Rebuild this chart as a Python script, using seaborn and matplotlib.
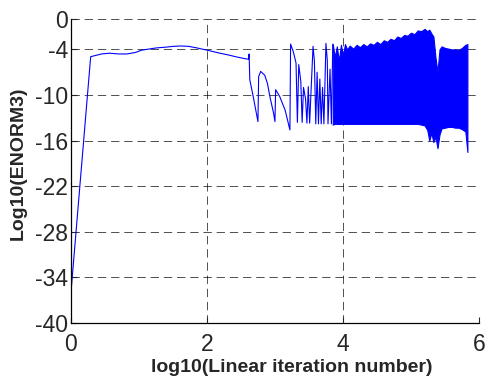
import numpy as np
import pandas as pd
import matplotlib
matplotlib.use("Agg")
import matplotlib.pyplot as plt
import seaborn as sns

sns.set_style("ticks")
plt.rcParams['font.family'] = ['Liberation Sans', 'DejaVu Sans']
plt.rcParams['lines.scale_dashes'] = False

# ramp and slow plateau
plateau_x = [0.0, 0.29, 0.45, 0.57, 0.70, 0.82, 0.95, 1.04, 1.15, 1.26, 1.40, 1.50,
             1.62, 1.73, 1.85, 1.95, 2.05, 2.19, 2.30, 2.44, 2.55, 2.61]
plateau_y = [-36.0, -4.96, -4.6, -4.5, -4.6, -4.6, -4.4, -4.1, -3.95, -3.8, -3.7, -3.6,
             -3.55, -3.6, -3.8, -4.0, -4.2, -4.5, -4.7, -5.0, -5.2, -5.3]

# sparse breakdown spikes
burst_x = [2.62, 2.63, 2.68, 2.75, 2.76, 2.79, 2.85, 2.89, 2.93, 2.98, 3.00, 3.01,
           3.07, 3.15, 3.22, 3.23, 3.27, 3.31, 3.33, 3.35, 3.38, 3.40, 3.42, 3.45,
           3.47, 3.49, 3.51, 3.56, 3.58, 3.60, 3.62, 3.64, 3.66, 3.68, 3.70, 3.72,
           3.75, 3.77, 3.78, 3.81, 3.83, 3.85]
burst_y = [-4.6, -8.0, -10.2, -13.5, -7.6, -6.9, -7.4, -8.5, -10.4, -12.4, -13.5, -9.3,
           -10.2, -12.0, -14.6, -3.3, -4.3, -5.8, -13.6, -6.0, -8.2, -13.6, -9.0, -10.5,
           -13.7, -8.9, -13.7, -3.6, -5.5, -13.8, -7.0, -13.8, -7.9, -13.8, -9.0, -13.8,
           -3.2, -5.5, -13.8, -6.6, -13.8, -3.3]

# dense oscillation region: upper / lower envelope
band_x = [3.85, 3.88, 3.91, 3.94, 3.97, 4.00, 4.03, 4.06, 4.10, 4.15, 4.20, 4.25,
          4.30, 4.35, 4.40, 4.45, 4.50, 4.55, 4.60, 4.65, 4.70, 4.75, 4.80, 4.85,
          4.90, 4.95, 5.00, 5.05, 5.10, 5.15, 5.20, 5.24, 5.27, 5.30, 5.33, 5.36,
          5.39, 5.42, 5.45, 5.50, 5.55, 5.60, 5.65, 5.70, 5.75, 5.80, 5.83]
band_hi = [-3.3, -5.0, -3.6, -5.5, -3.4, -4.8, -3.3, -4.0, -3.5, -3.9, -3.4, -3.7,
           -3.3, -3.6, -3.2, -3.4, -3.0, -3.3, -2.8, -3.0, -2.6, -2.8, -2.3, -2.5,
           -2.1, -2.2, -1.8, -2.0, -1.5, -1.6, -1.3, -1.6, -1.4, -1.9, -2.3, -5.0,
           -7.0, -4.0, -3.6, -3.8, -3.9, -4.0, -4.0, -4.1, -3.8, -3.4, -3.3]
band_lo = [-13.9, -13.8, -13.8, -13.8, -13.8, -13.8, -13.8, -13.8, -13.8, -13.8, -13.8, -13.8,
           -13.8, -13.8, -13.8, -13.8, -13.8, -13.8, -13.8, -13.8, -13.8, -13.8, -13.8, -13.8,
           -13.8, -13.8, -13.8, -13.8, -13.8, -13.9, -14.0, -14.6, -16.0, -15.0, -16.2, -15.5,
           -17.0, -15.2, -14.4, -14.3, -14.2, -14.2, -14.3, -14.3, -14.5, -14.8, -17.5]

yticks = [0, -4, -10, -16, -22, -28, -34, -40]
xticks = [0, 2, 4, 6]

df = pd.DataFrame({'x': plateau_x + burst_x, 'y': plateau_y + burst_y})

fig = plt.figure(figsize=(4.86, 3.8), dpi=100)
ax = fig.add_axes([0.146, 0.15, 0.8395, 0.80])

sns.lineplot(data=df, x='x', y='y', sort=False, estimator=None,
             color='#0000ff', linewidth=0.8, ax=ax)
ax.fill_between(band_x, band_lo, band_hi, color='#0000ff', linewidth=0.8)

ax.set_xlim(0, 6)
ax.set_ylim(-40, 0)
ax.set_xticks(xticks)
ax.set_yticks(yticks)
ax.set_yticklabels([str(t) for t in yticks])
ax.tick_params(direction='in', length=4, width=0.8, labelsize=16.5, pad=2)
ax.tick_params(axis='x', pad=7)

ax.grid(True, color='black', linestyle=(0, (6, 3.5)), linewidth=0.6, alpha=0.8)
for s in ['top', 'right']:
    ax.spines[s].set_visible(False)
for s in ['left', 'bottom']:
    ax.spines[s].set_linewidth(0.9)
    ax.spines[s].set_color('black')

ax.set_xlabel('log10(Linear iteration number)', fontsize=14, fontweight='bold')
ax.set_ylabel('Log10(ENORM3)', fontsize=14, fontweight='bold')
ax.xaxis.label.set_va('center')
ax.yaxis.label.set_va('center')
ax.xaxis.set_label_coords(0.542, -0.145)
ax.yaxis.set_label_coords(-0.13, 0.526)

fig.savefig('out.png', dpi=100)
